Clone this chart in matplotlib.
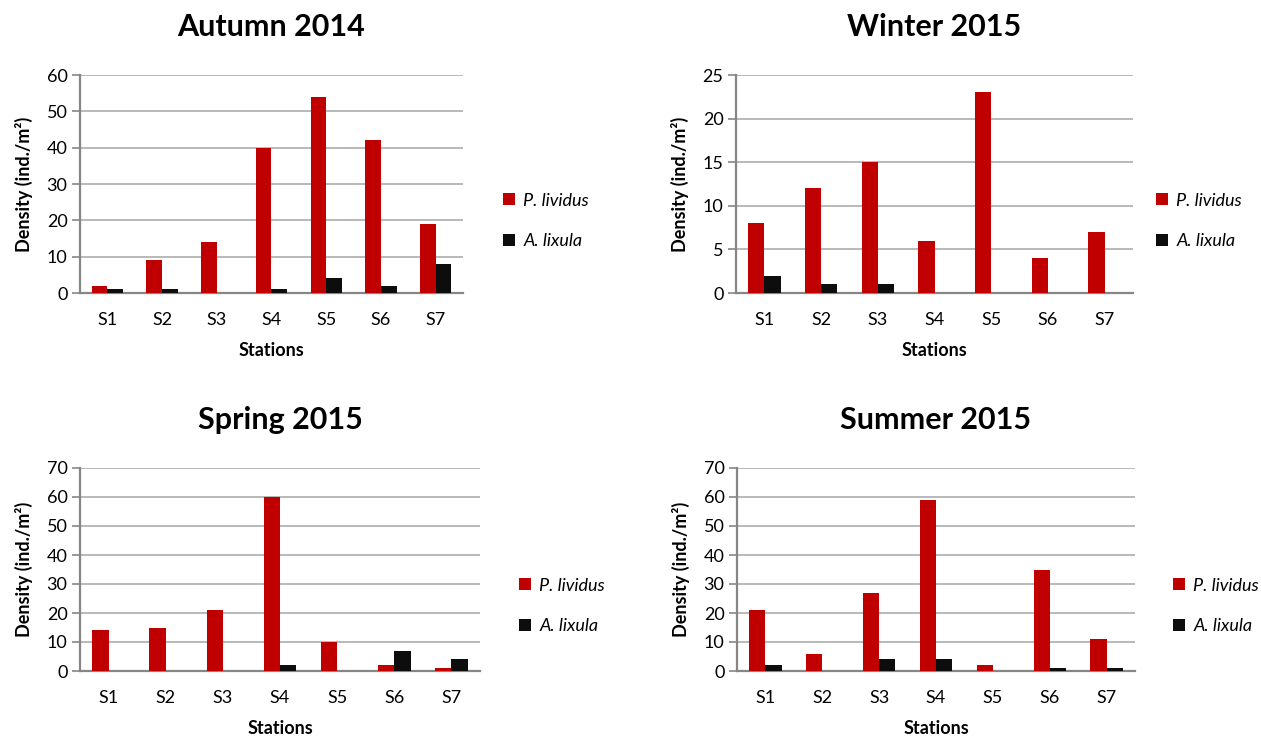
import matplotlib
matplotlib.use("Agg")
import matplotlib.pyplot as plt
import numpy as np

plt.rcParams["font.family"] = ["Lato", "DejaVu Sans"]

STATIONS = ["S1", "S2", "S3", "S4", "S5", "S6", "S7"]

AUTUMN_LIVIDUS = [2, 9, 14, 40, 54, 42, 19]
AUTUMN_LIXULA = [1, 1, 0, 1, 4, 2, 8]
WINTER_LIVIDUS = [8, 12, 15, 6, 23, 4, 7]
WINTER_LIXULA = [2, 1, 1, 0, 0, 0, 0]
SPRING_LIVIDUS = [14, 15, 21, 60, 10, 2, 1]
SPRING_LIXULA = [0, 0, 0, 2, 0, 7, 4]
SUMMER_LIVIDUS = [21, 6, 27, 59, 2, 35, 11]
SUMMER_LIXULA = [2, 0, 4, 4, 0, 1, 1]

RED = "#C00000"
BLACK = "#0D0D0D"
AXIS_GREY = "#868686"
GRID_GREY = "#B3B3B3"

W, H = 1261, 737
fig = plt.figure(figsize=(W / 100, H / 100), dpi=100)


def px_axes(x0, y0, x1, y1):
    # pixel box (top-left origin) -> figure fraction
    return fig.add_axes([x0 / W, 1 - y1 / H, (x1 - x0) / W, (y1 - y0) / H])


panels = [
    ("Autumn 2014", AUTUMN_LIVIDUS, AUTUMN_LIXULA, 60, 10, (80, 75, 463, 293), (487, 221)),
    ("Winter 2015", WINTER_LIVIDUS, WINTER_LIXULA, 25, 5, (736, 75, 1133, 293), (1140, 221)),
    ("Spring 2015", SPRING_LIVIDUS, SPRING_LIXULA, 70, 10, (80, 468, 480, 671), (503, 606)),
    ("Summer 2015", SUMMER_LIVIDUS, SUMMER_LIXULA, 70, 10, (737, 468, 1135, 671), (1157, 606)),
]

x = np.arange(len(STATIONS))
barWidth = 0.285

for title, lividus, lixula, ymax, step, box, legendPos in panels:
    ax = px_axes(*box)
    ax.bar(x - barWidth / 2, lividus, width=barWidth, color=RED, label="P. lividus", zorder=3)
    ax.bar(x + barWidth / 2, lixula, width=barWidth, color=BLACK, label="A. lixula", zorder=3)

    ax.set_xlim(-0.5, len(STATIONS) - 0.5)
    ax.set_ylim(0, ymax)
    ax.set_yticks(np.arange(0, ymax + 1, step))
    ax.set_xticks(x)
    ax.set_xticklabels(STATIONS)
    ax.tick_params(axis="x", length=0, labelsize=13, pad=14, colors="black")
    ax.tick_params(axis="y", length=6, width=1.2, color=AXIS_GREY, labelsize=13, pad=3)

    ax.grid(axis="y", color=GRID_GREY, linewidth=1.3, zorder=0)
    for side in ("top", "right"):
        ax.spines[side].set_visible(False)
    for side in ("left", "bottom"):
        ax.spines[side].set_color(AXIS_GREY)
        ax.spines[side].set_linewidth(1.6)

    ax.set_title(title, fontsize=22, fontweight="bold", pad=28)
    ax.set_xlabel("Stations", fontsize=13, fontweight="bold", labelpad=10)
    ax.set_ylabel("Density (ind./m²)", fontsize=13, fontweight="bold", labelpad=10)

    ax.legend(
        loc="center left",
        bbox_to_anchor=(legendPos[0] / W, 1 - legendPos[1] / H),
        bbox_transform=fig.transFigure,
        frameon=False,
        prop={"size": 13, "style": "italic"},
        handlelength=0.65,
        handleheight=0.65,
        handletextpad=0.45,
        labelspacing=1.35,
    )

fig.savefig("out.png", dpi=100)
